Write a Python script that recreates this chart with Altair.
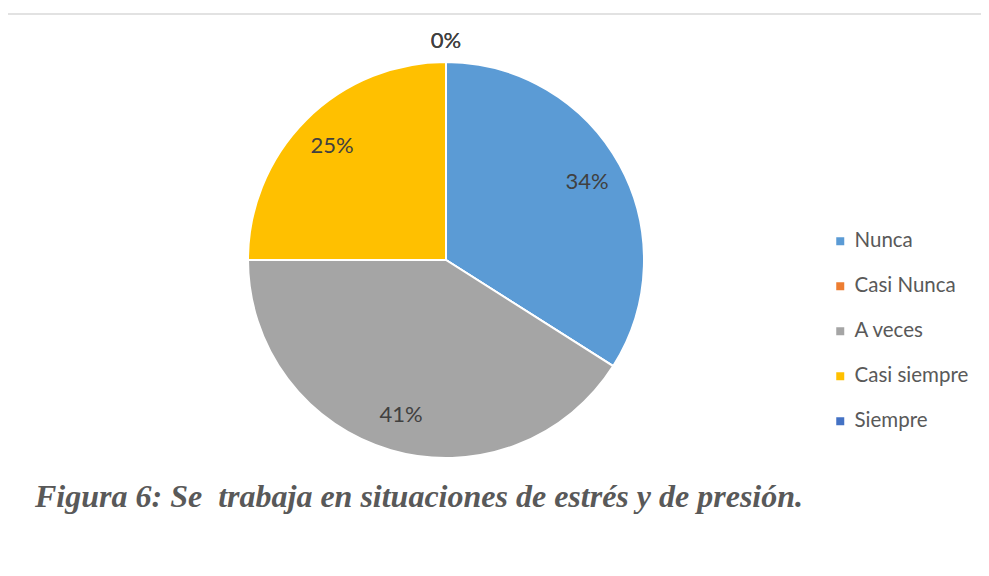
import altair as alt
import pandas as pd

categorias = ["Nunca", "Casi Nunca", "A veces", "Casi siempre", "Siempre"]
porcentajes = [34, 0, 41, 25, 0]
colores = ["#5B9BD5", "#ED7D31", "#A5A5A5", "#FFC000", "#4472C4"]
titulo = "Figura 6: Se\u00a0 trabaja en situaciones de estrés y de presión."

df = pd.DataFrame({
    "categoria": categorias,
    "pct": porcentajes,
    "orden": list(range(len(categorias))),
})

CX, CY, R = 438, 252, 198

base = alt.Chart(df).encode(
    theta=alt.Theta("pct:Q", stack=True),
    order=alt.Order("orden:Q"),
    x=alt.value(CX),
    y=alt.value(CY),
)

pie = base.mark_arc(outerRadius=R, stroke="white", strokeWidth=2).encode(
    color=alt.Color(
        "categoria:N",
        scale=alt.Scale(domain=categorias, range=colores),
        sort=categorias,
        legend=alt.Legend(
            title=None,
            orient="none",
            legendX=822,
            legendY=223,
            symbolType="square",
            symbolSize=64,
            symbolStrokeWidth=0,
            labelFont="Lato",
            labelFontSize=20.5,
            labelColor="#595959",
            labelOffset=4,
            rowPadding=24,
            padding=0,
        ),
    )
)

labels_in = base.transform_filter("datum.pct > 0").transform_calculate(
    lab="datum.pct + '%'"
).mark_text(radius=161, font="Lato", fontSize=22, color="#404040").encode(
    text="lab:N"
)

labels_out = base.transform_filter("datum.pct == 0").transform_calculate(
    lab="datum.pct + '%'"
).mark_text(radius=219, font="Lato", fontSize=22, color="#404040").encode(
    text="lab:N"
)

border = alt.Chart(pd.DataFrame({"t": [0]})).mark_rect(
    fill=None, stroke="#d9d9d9", strokeWidth=1.5
).encode(x=alt.value(-3), y=alt.value(6), x2=alt.value(1000), y2=alt.value(620))

title = alt.Chart(pd.DataFrame({"t": [titulo]})).mark_text(
    font="Liberation Serif", fontSize=32, fontWeight="bold", fontStyle="italic",
    color="#595959", align="left", baseline="alphabetic"
).encode(text="t:N", x=alt.value(27), y=alt.value(499))

chart = alt.layer(border, pie, labels_in, labels_out, title).properties(
    width=973, height=560, padding=0, autosize=alt.AutoSizeParams(type="none")
).configure_view(stroke=None)

chart.save("out.html", embed_options={"renderer": "svg", "actions": False})
